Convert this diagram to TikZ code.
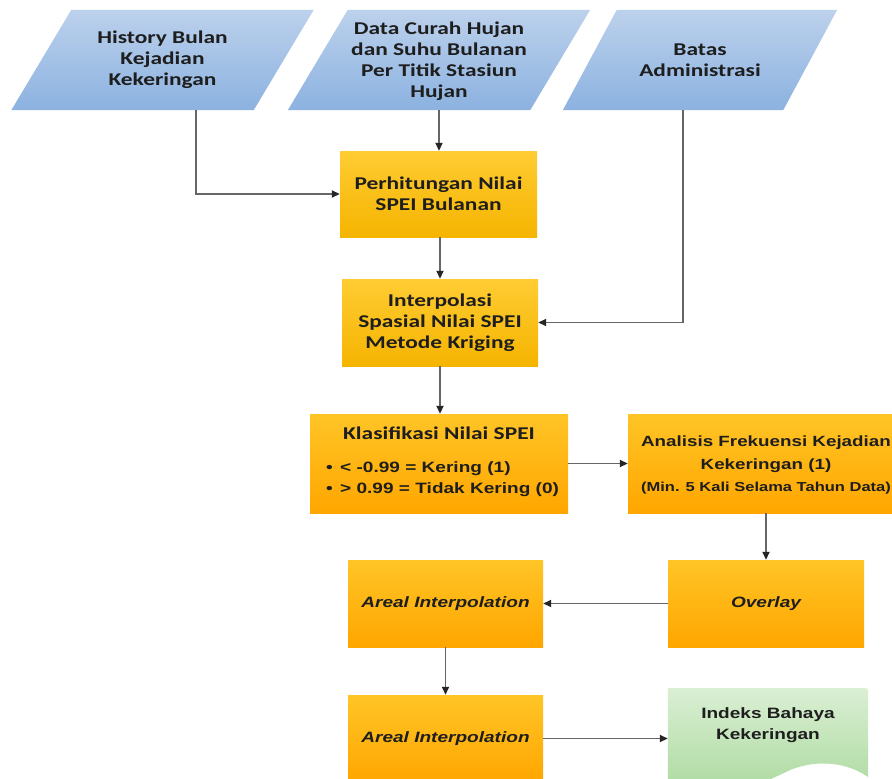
\documentclass[tikz,border=0pt]{standalone}
\usepackage{fontspec}
\usetikzlibrary{arrows.meta}
\newfontfamily\calb{Carlito}[FakeStretch=1.3]
\newfontfamily\arb{Liberation Sans}[FakeStretch=1.27]
\definecolor{blueT}{HTML}{BCD1EC}
\definecolor{blueB}{HTML}{8CB2E0}
\definecolor{goldT}{HTML}{FFCC33}
\definecolor{goldB}{HTML}{F5B400}
\definecolor{orT}{HTML}{FFC526}
\definecolor{orB}{HTML}{FFA600}
\definecolor{grT}{HTML}{DAEFD4}
\definecolor{grB}{HTML}{A8D89B}
\definecolor{ink}{HTML}{1E1E1E}
\definecolor{lineC}{HTML}{666666}
\tikzset{
  tcal/.style={font=\calb\bfseries\fontsize{18}{21}\selectfont, text=ink},
  tar/.style={font=\arb\bfseries\fontsize{15}{21}\selectfont, text=ink},
  tari/.style={font=\arb\bfseries\itshape\fontsize{15}{21}\selectfont, text=ink},
  inbox/.style={draw=none, inner sep=0pt, align=center, minimum width=242pt, minimum height=100pt},
  goldbox/.style={draw=none, top color=goldT, bottom color=goldB, inner sep=0pt, align=center},
  orbox/.style={draw=none, top color=orT, bottom color=orB, inner sep=0pt, align=center},
  txt/.style={inner sep=0pt, align=center},
  arr/.style={draw=lineC, line width=1.7pt, -{Triangle[length=8pt,width=7pt,color=black!85]}}
}
\begin{document}
\begin{tikzpicture}[x=1pt,y=-1pt]
\useasboundingbox (0,0) rectangle (892,779);
\clip (0,0) rectangle (892,779);
\fill[white] (0,0) rectangle (892,779);

% input parallelograms (named frames)
\node[inbox] (hist) at (162.5,60) {};
\node[inbox] (data) at (439,60) {};
\node[inbox, minimum width=220pt] (batas) at (700,60) {};
\foreach \n/\s in {hist/30,data/30,batas/27}{
  \shade[top color=blueT, bottom color=blueB]
    ([xshift=-\s pt]\n.south west) -- ([xshift=-\s pt]\n.south east) --
    ([xshift=\s pt]\n.north east) -- ([xshift=\s pt]\n.north west) -- cycle;
}
\node[txt, tcal] (histt) at (hist) {History Bulan\\Kejadian\\Kekeringan};
\node[txt, tcal] (datat) at ([yshift=-1pt]data.center) {Data Curah Hujan\\dan Suhu Bulanan\\Per Titik Stasiun\\Hujan};
\node[txt, tcal] (batast) at (batas) {Batas\\Administrasi};

% process boxes
\node[goldbox, tcal, minimum width=197pt, minimum height=86pt] (perh) at (438.5,194) {Perhitungan Nilai\\SPEI Bulanan};
\node[goldbox, tcal, minimum width=196pt, minimum height=87pt] (interp) at (440,322.5) {Interpolasi\\Spasial Nilai SPEI\\Metode Kriging};
\node[orbox, minimum width=258pt, minimum height=99pt] (klas) at (439,463.5) {};
\node[txt, tcal] (klast) at (439,433) {Klasifikasi Nilai SPEI};
\node[txt, tar, anchor=west, align=left] (klasb) at (326,479) {\makebox[14pt][l]{•}< -0.99 = Kering (1)\\\makebox[14pt][l]{•}> 0.99 = Tidak Kering (0)};
\node[orbox, minimum width=276pt, minimum height=99pt] (anal) at (766,463.5) {};
\node[txt, tar, font=\arb\bfseries\fontsize{14.8}{22.5}\selectfont] (analt) at (766,465) {Analisis Frekuensi Kejadian\\Kekeringan (1)\\{\fontsize{13}{16}\selectfont (Min. 5 Kali Selama Tahun Data)}};
\node[orbox, tari, minimum width=196pt, minimum height=87pt] (over) at (766,603.5) {Overlay};
\node[orbox, tari, minimum width=195pt, minimum height=87pt] (areal1) at (445.5,603.5) {Areal Interpolation};
\node[orbox, tari, minimum width=195pt, minimum height=87pt] (areal2) at (445.5,738.5) {Areal Interpolation};

% output document shape
\node[draw=none, inner sep=0pt, minimum width=200pt, minimum height=102pt, anchor=north] (indeks) at (768,688) {};
\shade[top color=grT, bottom color=grB]
  (indeks.north west) [rounded corners=3pt] -- (indeks.north east) [sharp corners] --
  (868,777) .. controls (850,764) and (820,758) .. (790,770)
  .. controls (750,790) and (710,802) .. (668,792) -- cycle;
\node[txt, tar] (indekst) at (768,725) {Indeks Bahaya\\Kekeringan};

% connectors
\draw[arr] ([xshift=33.5pt]hist.south) |- (perh.west);
\draw[arr] (data.south) -- (data.south |- perh.north);
\draw[arr] ([xshift=-17pt]batas.south) |- (interp.east);
\draw[arr] (perh.south -| interp.north) -- (interp.north);
\draw[arr] (interp.south) -- (interp.south |- klas.north);
\draw[arr] (klas.east) -- (anal.west);
\draw[arr] (anal.south -| over.north) -- (over.north);
\draw[arr] (over.west) -- (areal1.east);
\draw[arr] (areal1.south) -- (areal2.north);
\draw[arr] (areal2.east) -- (areal2.east -| indeks.west);
\end{tikzpicture}
\end{document}
